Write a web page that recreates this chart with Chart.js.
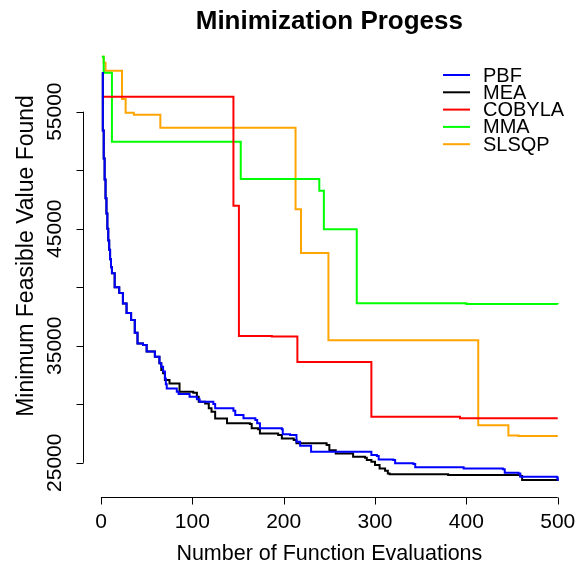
<!DOCTYPE html>
<html lang="en">
<head>
  <meta charset="UTF-8">
  <title>Minimization Progess</title>
  <script src="https://cdn.jsdelivr.net/npm/chart.js@4.4.0/dist/chart.umd.min.js"></script>
  <style>
    html, body { margin: 0; padding: 0; background: #fff; }
    canvas { display: block; }
  </style>
</head>
<body>
  <canvas id="progress" width="577" height="570"></canvas>
  <script>
    // best feasible value found so far: [evaluation, value] at each improvement
    var pbf = [
      [1, 58300], [2, 53400], [3, 51000], [4, 49200], [5, 47600], [6, 46300], [7, 45000],
      [8, 44000], [9, 43200], [10, 42400], [11, 41700], [12, 41200], [15, 40000], [20, 39500],
      [24, 38600], [28, 37800], [33, 37200], [37, 36100], [40, 35200], [46, 35060], [50, 34500],
      [59, 34050], [64, 33500], [66, 33200], [68, 32800], [70, 32200], [71, 31700], [72, 31350],
      [83, 31070], [85, 30870], [97, 30640], [105, 30420], [108, 30210], [123, 30020],
      [125, 29650], [145, 29450], [147, 29080], [156, 28800], [169, 28650], [171, 28370],
      [174, 27940], [198, 27860], [199, 27430], [207, 27370], [214, 26800], [218, 26450],
      [230, 25940], [296, 25660], [302, 25570], [304, 25290], [320, 25230], [322, 24950],
      [342, 24890], [344, 24610], [397, 24520], [440, 24440], [442, 24150], [457, 24090],
      [459, 23800], [499, 23750], [500, 23460]
    ];
    var mea = [
      [1, 58300], [2, 53400], [3, 51000], [4, 49200], [5, 47600], [6, 46300], [7, 45000],
      [8, 44000], [9, 43200], [10, 42400], [11, 41700], [12, 41200], [15, 40000], [20, 39500],
      [24, 38600], [28, 37800], [33, 37200], [37, 36100], [40, 35200], [46, 35060], [50, 34500],
      [59, 34050], [64, 33500], [66, 32920], [68, 32640], [70, 32070], [75, 31780], [86, 31070],
      [101, 30980], [105, 30640], [107, 30210], [114, 30070], [118, 29650], [121, 29360],
      [125, 28790], [138, 28370], [163, 28310], [165, 27940], [172, 27860], [174, 27510],
      [194, 27370], [198, 27080], [211, 26940], [214, 26660], [247, 26510], [250, 26080],
      [257, 25800], [276, 25510], [289, 25430], [291, 25230], [296, 25090], [300, 24800],
      [305, 24520], [311, 24320], [314, 24090], [316, 24010], [380, 23950], [459, 23860],
      [461, 23520], [500, 23440]
    ];
    var cobyla = [
      [1, 56280], [145, 46970], [151, 35840], [187, 35800], [215, 33610], [296, 28930],
      [393, 28800], [500, 28800]
    ];
    var mma = [
      [1, 59700], [3, 58330], [12, 52440], [153, 49250], [239, 48240], [244, 44950],
      [280, 38620], [400, 38560], [500, 38540]
    ];
    var slsqp = [
      [1, 59700], [3, 59190], [5, 58500], [23, 56080], [27, 54910], [36, 54740], [65, 53630],
      [213, 46660], [219, 42920], [249, 35470], [413, 28200], [446, 27340], [457, 27280],
      [500, 27280]
    ];

    var seriesNames = ['PBF', 'MEA', 'COBYLA', 'MMA', 'SLSQP'];
    var seriesColors = ['#0000ff', '#000000', '#ff0000', '#00ff00', '#ffa500'];
    var xTicks = [0, 100, 200, 300, 400, 500];
    var yTicks = [25000, 30000, 35000, 40000, 45000, 50000, 55000];
    var yTickLabels = [25000, 35000, 45000, 55000];

    var FONT = '"Liberation Sans", Arial, Helvetica, sans-serif';

    // R style axes, titles and legend drawn straight onto the canvas
    var baseGraphics = {
      id: 'baseGraphics',
      afterDraw: function (chart) {
        var ctx = chart.ctx;
        var xs = chart.scales.x, ys = chart.scales.y, area = chart.chartArea;
        ctx.save();
        ctx.strokeStyle = '#000';
        ctx.fillStyle = '#000';
        ctx.lineWidth = 1;

        // x axis
        var yAxis = Math.round(area.bottom) - 0.5;
        ctx.beginPath();
        ctx.moveTo(xs.getPixelForValue(xTicks[0]), yAxis);
        ctx.lineTo(xs.getPixelForValue(xTicks[xTicks.length - 1]), yAxis);
        xTicks.forEach(function (t) {
          var px = Math.round(xs.getPixelForValue(t)) + 0.5;
          ctx.moveTo(px, yAxis);
          ctx.lineTo(px, yAxis + 7);
        });
        ctx.stroke();
        ctx.font = '21px ' + FONT;
        ctx.textAlign = 'center';
        ctx.textBaseline = 'middle';
        xTicks.forEach(function (t) {
          ctx.fillText(String(t), xs.getPixelForValue(t), 522);
        });
        ctx.font = '21.5px ' + FONT;
        ctx.fillText('Number of Function Evaluations', (area.left + area.right) / 2, 554);

        // y axis
        var xAxis = Math.round(area.left) + 0.5;
        ctx.beginPath();
        ctx.moveTo(xAxis, ys.getPixelForValue(yTicks[0]));
        ctx.lineTo(xAxis, ys.getPixelForValue(yTicks[yTicks.length - 1]));
        yTicks.forEach(function (t) {
          var py = Math.round(ys.getPixelForValue(t)) + 0.5;
          ctx.moveTo(xAxis, py);
          ctx.lineTo(xAxis - 7, py);
        });
        ctx.stroke();
        ctx.font = '21px ' + FONT;
        yTickLabels.forEach(function (t) {
          ctx.save();
          ctx.translate(55, ys.getPixelForValue(t));
          ctx.rotate(-Math.PI / 2);
          ctx.fillText(String(t), 0, 0);
          ctx.restore();
        });
        ctx.font = '23px ' + FONT;
        ctx.save();
        ctx.translate(27, 256);
        ctx.rotate(-Math.PI / 2);
        ctx.fillText('Minimum Feasible Value Found', 0, 0);
        ctx.restore();

        // main title
        ctx.font = 'bold 26px ' + FONT;
        ctx.fillText('Minimization Progess', (area.left + area.right) / 2, 22);

        // legend
        ctx.font = '20px ' + FONT;
        ctx.textAlign = 'left';
        ctx.lineWidth = 2;
        seriesNames.forEach(function (name, i) {
          var ry = 75 + i * 17.3;
          ctx.strokeStyle = seriesColors[i];
          ctx.beginPath();
          ctx.moveTo(443, ry);
          ctx.lineTo(470, ry);
          ctx.stroke();
          ctx.fillText(name, 483, ry + 1);
        });
        ctx.restore();
      }
    };

    var seriesData = [pbf, mea, cobyla, mma, slsqp];
    var ctx = document.getElementById('progress');
    var chart = new Chart(ctx, {
      type: 'line',
      data: {
        datasets: seriesNames.map(function (name, i) {
          return {
            label: name,
            data: seriesData[i],
            borderColor: seriesColors[i],
            borderWidth: 2,
            pointRadius: 0,
            stepped: 'before',
            fill: false
          };
        })
      },
      options: {
        responsive: false,
        animation: false,
        layout: { padding: { left: 82.7, right: 1, top: 39.7, bottom: 72 } },
        plugins: {
          legend: { display: false },
          title: { display: false },
          tooltip: { enabled: false }
        },
        scales: {
          x: { type: 'linear', display: false, min: -20, max: 520 },
          y: { type: 'linear', display: false, min: 21990, max: 61150 }
        }
      },
      plugins: [baseGraphics]
    });
  </script>
</body>
</html>
